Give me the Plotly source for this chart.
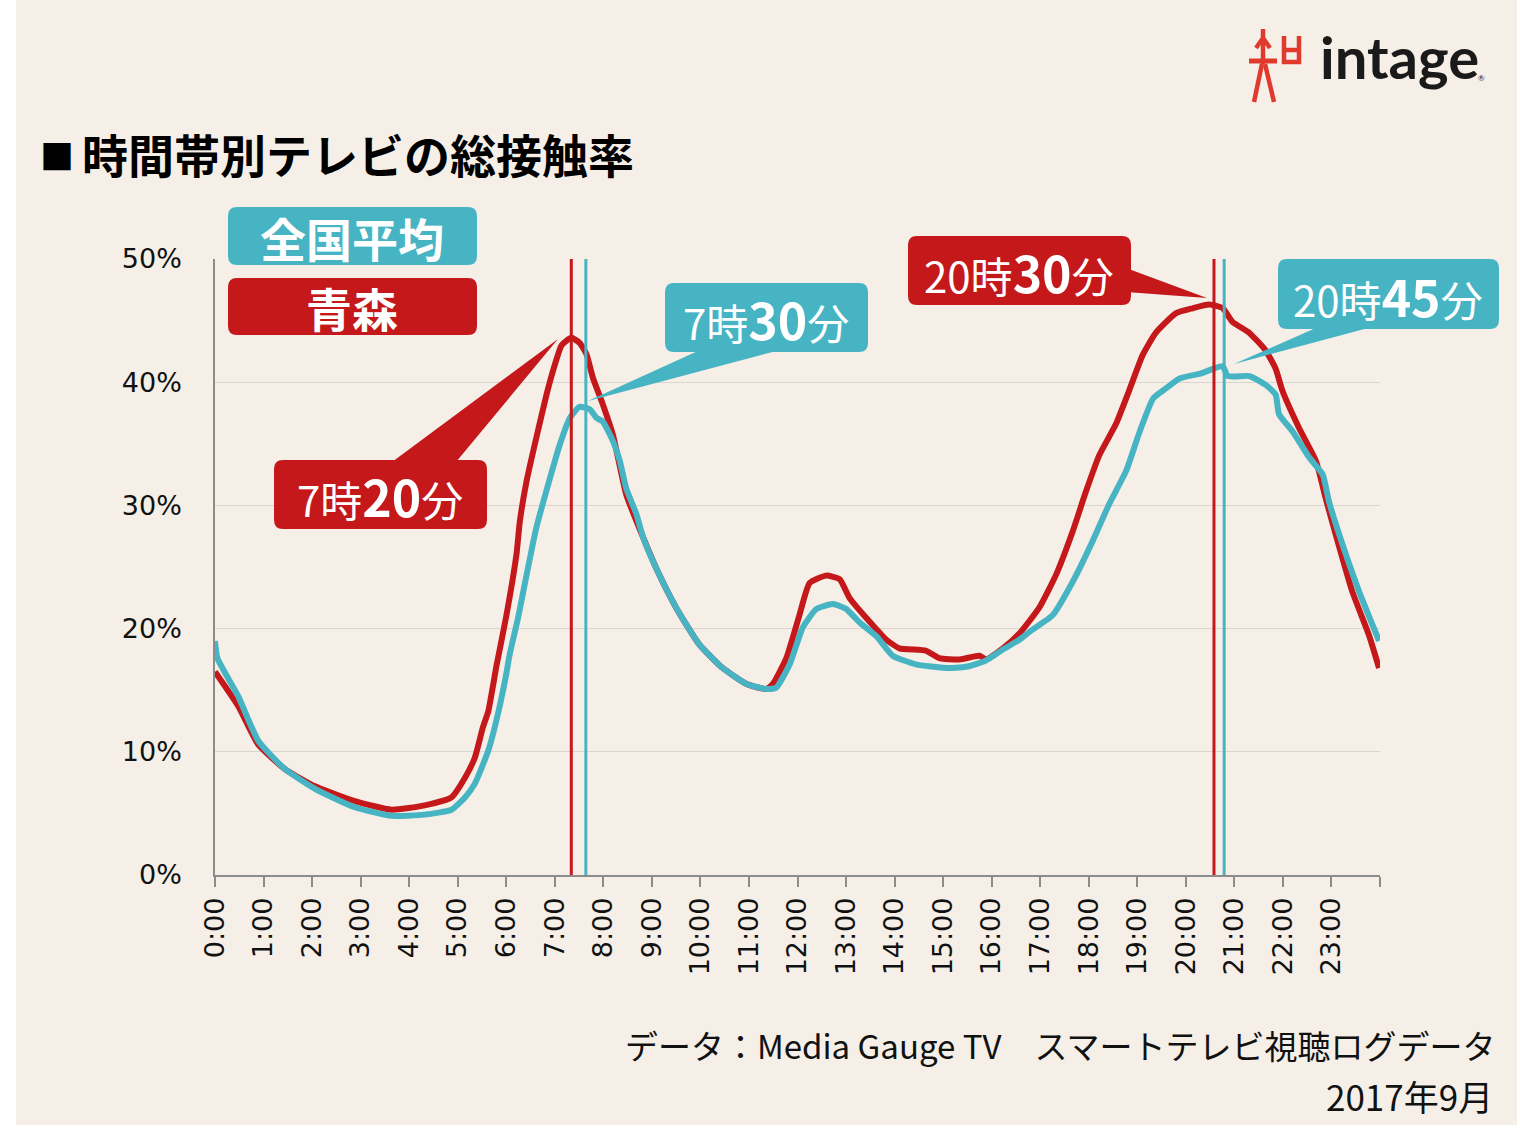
import plotly.graph_objects as go

# ---------------- data (hours, % share) ----------------
aomori_t = [0.00, 0.48, 0.89, 1.44, 2.06, 2.88, 3.64, 4.32, 4.87, 5.15, 5.35, 5.52, 5.63, 5.80,
            6.00, 6.21, 6.28, 6.42, 6.62, 6.83, 7.00, 7.14, 7.34, 7.51, 7.65, 7.79, 7.99, 8.20,
            8.47, 8.82, 9.09, 9.50, 9.98, 10.46, 10.95, 11.36, 11.49, 11.77, 12.04, 12.25, 12.59,
            12.87, 13.07, 13.41, 13.83, 14.10, 14.65, 14.92, 15.34, 15.75, 15.88, 16.23, 16.57,
            16.98, 17.33, 17.67, 17.94, 18.22, 18.56, 18.83, 19.11, 19.38, 19.80, 20.14, 20.48,
            20.76, 20.96, 21.31, 21.64, 21.85, 21.99, 22.33, 22.68, 22.88, 23.09, 23.43, 23.77, 23.98]
aomori_v = [16.5, 13.7, 10.6, 8.6, 7.2, 6.0, 5.3, 5.65, 6.3, 7.9, 9.5, 12.0, 13.3, 17.0,
            21.0, 26.0, 28.7, 32.0, 35.5, 39.0, 41.4, 43.0, 43.6, 43.2, 42.3, 40.3, 38.2, 35.7,
            30.9, 27.4, 24.9, 21.7, 18.7, 16.8, 15.5, 15.1, 15.5, 17.6, 21.1, 23.7, 24.3,
            24.0, 22.5, 20.9, 19.1, 18.4, 18.2, 17.6, 17.5, 17.8, 17.5, 18.4, 19.6,
            21.7, 24.4, 27.9, 31.1, 34.1, 36.6, 39.3, 42.2, 44.0, 45.6, 46.0, 46.3,
            46.0, 44.9, 44.0, 42.6, 41.1, 39.3, 36.3, 33.6, 30.6, 27.6, 23.0, 19.5, 16.8]

national_t = [0.00, 0.05, 0.48, 0.89, 1.44, 2.06, 2.88, 3.64, 4.32, 4.87, 5.15, 5.35, 5.63, 5.83,
              6.00, 6.07, 6.24, 6.35, 6.62, 6.90, 7.10, 7.31, 7.51, 7.72, 7.86, 7.99, 8.20, 8.34,
              8.47, 8.68, 8.82, 9.09, 9.50, 9.98, 10.46, 10.95, 11.36, 11.56, 11.84, 12.11, 12.39,
              12.73, 13.00, 13.28, 13.62, 13.96, 14.44, 15.06, 15.47, 15.88, 16.23, 16.57, 16.80,
              17.26, 17.67, 18.08, 18.42, 18.77, 19.05, 19.33, 19.59, 19.87, 20.30, 20.76, 20.86,
              21.31, 21.64, 21.85, 21.92, 22.20, 22.54, 22.82, 22.95, 23.23, 23.57, 23.98]
national_v = [19.0, 17.6, 14.5, 10.9, 8.6, 7.0, 5.5, 4.8, 4.9, 5.3, 6.3, 7.4, 10.1, 13.1,
              16.3, 17.9, 20.8, 23.0, 28.2, 32.2, 34.9, 37.1, 38.0, 37.8, 37.1, 36.8, 35.2, 33.6,
              31.4, 29.3, 27.4, 24.9, 21.7, 18.7, 16.8, 15.5, 15.1, 15.2, 17.1, 20.1, 21.6,
              22.0, 21.6, 20.5, 19.4, 17.8, 17.1, 16.8, 16.9, 17.4, 18.3, 19.1, 19.8,
              21.1, 23.8, 27.1, 30.1, 32.8, 36.0, 38.7, 39.5, 40.3, 40.7, 41.3, 40.5,
              40.5, 39.8, 39.0, 37.4, 36.0, 33.9, 32.5, 30.3, 26.8, 23.0, 19.0]

aomori_peak_t = [7.34, 20.58]
national_peak_t = [7.64, 20.79]

hour_ticks = list(range(25))
hour_labels = [f"{h}:00" for h in range(24)] + [""]
pct_ticks = [0, 10, 20, 30, 40, 50]
pct_labels = ["0%", "10%", "20%", "30%", "40%", "50%"]

RED = "#C4181B"
CYAN = "#47B4C4"
BEIGE = "#F5EFE8"

# ---------------- geometry helpers (pixel -> paper) ----------------
L, R, T, B = 215, 1380, 259, 875
def X(px):
    return (px - L) / (R - L)
def Y(py):
    return (B - py) / (B - T)

def rrect(x0, y0, x1, y1, r):
    return (f"M {X(x0+r)},{Y(y0)} L {X(x1-r)},{Y(y0)} Q {X(x1)},{Y(y0)} {X(x1)},{Y(y0+r)} "
            f"L {X(x1)},{Y(y1-r)} Q {X(x1)},{Y(y1)} {X(x1-r)},{Y(y1)} "
            f"L {X(x0+r)},{Y(y1)} Q {X(x0)},{Y(y1)} {X(x0)},{Y(y1-r)} "
            f"L {X(x0)},{Y(y0+r)} Q {X(x0)},{Y(y0)} {X(x0+r)},{Y(y0)} Z")

def tri(a, b, c):
    return (f"M {X(a[0])},{Y(a[1])} L {X(b[0])},{Y(b[1])} L {X(c[0])},{Y(c[1])} Z")

fig = go.Figure()

fig.add_trace(go.Scatter(x=aomori_t, y=aomori_v, mode="lines", name="青森",
                         line=dict(color=RED, width=6, shape="spline", smoothing=0.5)))
fig.add_trace(go.Scatter(x=national_t, y=national_v, mode="lines", name="全国平均",
                         line=dict(color=CYAN, width=6, shape="spline", smoothing=0.5)))
for t in aomori_peak_t:
    fig.add_trace(go.Scatter(x=[t, t], y=[0, 50], mode="lines",
                             line=dict(color=RED, width=3), showlegend=False))
for t in national_peak_t:
    fig.add_trace(go.Scatter(x=[t, t], y=[0, 50], mode="lines",
                             line=dict(color=CYAN, width=3), showlegend=False))

shapes = []
# beige page area (white border outside)
shapes.append(dict(type="rect", xref="paper", yref="paper", layer="below",
                   x0=X(16), x1=X(1517), y0=Y(1125), y1=Y(0),
                   fillcolor=BEIGE, line=dict(width=0)))

def box(path, color):
    shapes.append(dict(type="path", xref="paper", yref="paper", path=path,
                       fillcolor=color, line=dict(width=0), layer="above"))

# legend boxes
box(rrect(228, 207, 477, 265, 9), CYAN)
box(rrect(228, 278, 477, 335, 9), RED)
# callouts
box(tri((392, 462), (456, 462), (558, 339)), RED)
box(rrect(274, 460, 487, 529, 9), RED)
box(tri((700, 350), (780, 350), (588, 401)), CYAN)
box(rrect(665, 283, 868, 352, 9), CYAN)
box(tri((1126, 268), (1126, 292), (1207, 298)), RED)
box(rrect(908, 236, 1131, 305, 9), RED)
box(tri((1318, 327), (1372, 327), (1234, 364)), CYAN)
box(rrect(1278, 259, 1499, 329, 9), CYAN)

# logo figure
LOGO = "#E03A2F"
def seg(x0, y0, x1, y1, w=4.5):
    shapes.append(dict(type="line", xref="paper", yref="paper",
                       x0=X(x0), y0=Y(y0), x1=X(x1), y1=Y(y1),
                       line=dict(color=LOGO, width=w), layer="above"))
seg(1263, 29, 1263, 64)
seg(1263, 38, 1256, 48)
seg(1263, 38, 1270, 48)
seg(1249, 61, 1277, 61, 5)
seg(1262, 64, 1254, 102)
seg(1265, 64, 1274, 102)
shapes.append(dict(type="path", xref="paper", yref="paper", layer="above",
                   path=f"M {X(1284)},{Y(36)} L {X(1284)},{Y(62)} L {X(1299)},{Y(62)} L {X(1299)},{Y(36)}",
                   line=dict(color=LOGO, width=4.5)))
seg(1284, 50, 1299, 50)

annotations = []
def txt(x, y, text, size, color="white", anchor="center", family="Noto Sans CJK JP", bold=False):
    annotations.append(dict(xref="paper", yref="paper", x=X(x), y=Y(y), text=(f"<b>{text}</b>" if bold else text),
                            showarrow=False, xanchor=anchor, yanchor="middle",
                            font=dict(size=size, color=color, family=family)))

txt(352, 237, "全国平均", 46, bold=True)
txt(352, 307, "青森", 46, bold=True)

def callout(x, y, a, b):
    text = (f"{a}時<span style='font-size:50px'><b>{b}</b></span>分")
    annotations.append(dict(xref="paper", yref="paper", x=X(x), y=Y(y), text=text,
                            showarrow=False, xanchor="center", yanchor="middle",
                            font=dict(size=42, color="white", family="Noto Sans CJK JP")))

callout(380, 495, 7, 20)
callout(766, 318, 7, 30)
callout(1019, 271, 20, 30)
callout(1388, 295, 20, 45)

txt(38, 155, "■", 34, color="black", anchor="left", bold=True)
txt(80, 153, "時間帯別テレビの総接触率", 46, color="black", anchor="left", bold=True)
txt(1318, 57, "intage", 58, color="#1a1a1a", anchor="left", family="Lato", bold=True)
txt(1481, 78, "®", 8, color="#1a1a1a", anchor="center", family="Lato")
txt(1497, 1045, "データ：Media Gauge TV　スマートテレビ視聴ログデータ", 33, color="#111111", anchor="right")
txt(1495, 1095, "2017年9月", 35, color="#111111", anchor="right")

fig.update_layout(
    width=1520, height=1137,
    margin=dict(l=L, r=1520 - R, t=T, b=1137 - B, pad=0),
    paper_bgcolor="white", plot_bgcolor="rgba(0,0,0,0)",
    showlegend=False,
    shapes=shapes, annotations=annotations,
    xaxis=dict(range=[0, 24], tickvals=hour_ticks, ticktext=hour_labels, tickangle=-90,
               showgrid=False, zeroline=False, showline=True, linecolor="#8c8c8c", linewidth=1.5,
               ticks="outside", ticklen=10, tickwidth=1.5, tickcolor="#8c8c8c",
               tickfont=dict(family="DejaVu Sans", size=27, color="#111111")),
    yaxis=dict(range=[0, 50], tickvals=pct_ticks, ticktext=pct_labels,
               showgrid=True, gridcolor="#d9d6d2", gridwidth=1.2, zeroline=False,
               showline=True, linecolor="#8c8c8c", linewidth=1.5,
               ticks="outside", ticklen=26, tickcolor="rgba(0,0,0,0)",
               tickfont=dict(family="DejaVu Sans", size=27, color="#111111")),
)

fig.write_html("out.html")
